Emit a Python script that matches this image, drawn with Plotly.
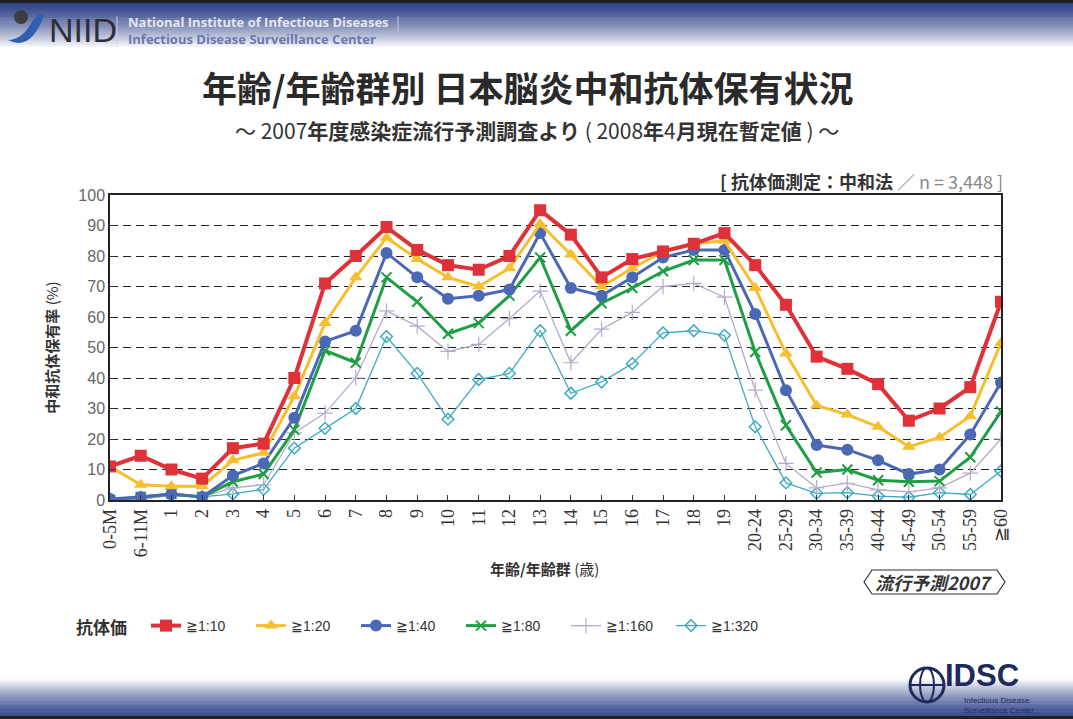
import plotly.graph_objects as go

# ---------------- data ----------------
categories = ["0-5M", "6-11M", "1", "2", "3", "4", "5", "6", "7", "8", "9", "10",
              "11", "12", "13", "14", "15", "16", "17", "18", "19",
              "20-24", "25-29", "30-34", "35-39", "40-44", "45-49", "50-54", "55-59", "≧60"]

s_10 = [11, 14.5, 10, 7, 17, 18.5, 40, 71, 80, 89.5, 82, 77, 75.5, 80, 95, 87, 73, 79, 81.5, 84, 87.5,
        77, 64, 47, 43, 38, 26, 30, 37, 65]
s_20 = [11, 5, 4.5, 4.5, 13, 15.5, 34, 58, 73, 86, 79, 73, 70, 76, 90.5, 80.5, 70, 76, 81.5, 84, 85,
        69.5, 48, 31, 28, 24, 17.5, 20.5, 27.5, 51.5]
s_40 = [0.3, 1, 2, 1, 8, 12, 27, 52, 55.5, 81, 73, 66, 67, 69, 87.5, 69.5, 67, 73, 79.5, 82, 82,
        61, 36, 18, 16.5, 13, 8.5, 10, 21.5, 38.5]
s_80 = [0, 1, 2, 1, 6, 8.5, 23, 49, 45, 73, 65, 54.5, 58, 67, 79.5, 55.5, 64.5, 69.5, 75, 78.7, 78.7,
        48.5, 24.5, 9, 10, 6.5, 6, 6.2, 14, 29]
s_160 = [0, 0.5, 1.5, 1, 4, 5, 22, 28.5, 40, 62, 57, 48.7, 51, 59.5, 68.5, 45, 56, 61.5, 70, 71, 66.5,
         36, 12, 4, 5.5, 3.3, 2.7, 4, 8.8, 20]
s_320 = [0, 0.3, 1.5, 1, 2, 3.5, 17, 23.5, 30, 53.6, 41.5, 26.5, 39.5, 41.5, 55.5, 35, 38.7, 44.7, 54.8, 55.5, 54,
         24, 5.6, 2.2, 2.4, 1.3, 0.9, 2.4, 1.8, 9.5]

series_names = ["≧1:10", "≧1:20", "≧1:40", "≧1:80", "≧1:160", "≧1:320"]
series_values = [s_10, s_20, s_40, s_80, s_160, s_320]
y_ticks = [0, 10, 20, 30, 40, 50, 60, 70, 80, 90, 100]

# ---------------- styles ----------------
styles = [
    dict(color="#e03038", width=4, symbol="square", size=12, lw=0),
    dict(color="#f7be2e", width=3, symbol="triangle-up", size=12, lw=0),
    dict(color="#4a68b4", width=3, symbol="circle", size=12, lw=0),
    dict(color="#1f9e44", width=3, symbol="x-thin", size=10, lw=2),
    dict(color="#b6aacb", width=1.3, symbol="cross-thin", size=11, lw=1.2),
    dict(color="#3eaac4", width=1.3, symbol="diamond-open", size=9, lw=1.5),
]

W, H = 1073, 719
L, R, T, B = 110, 1001, 195, 500


def px(x):
    return (x - L) / (R - L)


def py(y):
    return (B - y) / (B - T)


fig = go.Figure()
# add reversed so red is drawn on top; legend reversed to keep order
for name, vals, st in reversed(list(zip(series_names, series_values, styles))):
    fig.add_trace(go.Scatter(
        x=categories, y=vals, name=name, mode="lines+markers",
        line=dict(color=st["color"], width=st["width"]),
        marker=dict(symbol=st["symbol"], size=st["size"], color=st["color"],
                    line=dict(color=st["color"], width=st["lw"])),
    ))

shapes = []
# header gradient
top_c = (52, 70, 138)
n = 24
for i in range(n):
    y0 = 3 + i * 46 / n
    y1 = 3 + (i + 1) * 46 / n
    t = i / (n - 1)
    t = t ** 1.3
    c = tuple(int(top_c[k] + (255 - top_c[k]) * t) for k in range(3))
    shapes.append(dict(type="rect", xref="paper", yref="paper", layer="below",
                       x0=px(0), x1=px(W), y0=py(y1 + 0.5), y1=py(y0),
                       fillcolor="rgb(%d,%d,%d)" % c, line=dict(width=0)))
shapes.append(dict(type="rect", xref="paper", yref="paper", layer="below",
                   x0=px(0), x1=px(W), y0=py(3), y1=py(0),
                   fillcolor="#202020", line=dict(width=0)))
# footer gradient
bot_c = (60, 78, 146)
for i in range(n):
    y0 = 678 + i * 38 / n
    y1 = 678 + (i + 1) * 38 / n
    t = 1 - i / (n - 1)
    t = t ** 1.3
    c = tuple(int(bot_c[k] + (255 - bot_c[k]) * t) for k in range(3))
    shapes.append(dict(type="rect", xref="paper", yref="paper", layer="below",
                       x0=px(0), x1=px(W), y0=py(y1 + 0.5), y1=py(y0),
                       fillcolor="rgb(%d,%d,%d)" % c, line=dict(width=0)))
shapes.append(dict(type="rect", xref="paper", yref="paper", layer="below",
                   x0=px(0), x1=px(W), y0=py(719), y1=py(716),
                   fillcolor="#202020", line=dict(width=0)))

# NIID logo blob
shapes.append(dict(type="circle", xref="paper", yref="paper",
                   x0=px(14), x1=px(28), y0=py(24), y1=py(10),
                   fillcolor="#3c3c44", line=dict(width=0)))
shapes.append(dict(type="path", xref="paper", yref="paper",
                   path="M %f,%f Q %f,%f %f,%f Q %f,%f %f,%f Q %f,%f %f,%f Z" % (
                       px(8), py(40), px(30), py(52), px(44), py(16),
                       px(40), py(10), px(32), py(22),
                       px(22), py(40), px(8), py(40)),
                   fillcolor="#2f5fb0", line=dict(width=0)))
shapes.append(dict(type="line", xref="paper", yref="paper",
                   x0=px(117), x1=px(117), y0=py(44), y1=py(16),
                   line=dict(color="#c8cce0", width=1)))
shapes.append(dict(type="line", xref="paper", yref="paper",
                   x0=px(398), x1=px(398), y0=py(32), y1=py(16),
                   line=dict(color="#c8cce0", width=1)))

# IDSC globe
shapes.append(dict(type="circle", xref="paper", yref="paper",
                   x0=px(910), x1=px(944), y0=py(702), y1=py(668),
                   fillcolor="rgba(0,0,0,0)", line=dict(color="#1e2a5c", width=3)))
shapes.append(dict(type="circle", xref="paper", yref="paper",
                   x0=px(920), x1=px(934), y0=py(702), y1=py(668),
                   fillcolor="rgba(0,0,0,0)", line=dict(color="#1e2a5c", width=2)))
shapes.append(dict(type="line", xref="paper", yref="paper",
                   x0=px(910), x1=px(944), y0=py(685), y1=py(685),
                   line=dict(color="#1e2a5c", width=2)))

# 流行予測 tag outline
tx0, tx1, ty0, ty1 = 864, 1005, 570, 594
tm = (ty0 + ty1) / 2
shapes.append(dict(type="path", xref="paper", yref="paper",
                   path="M %f,%f L %f,%f L %f,%f L %f,%f L %f,%f L %f,%f Z" % (
                       px(tx0), py(tm), px(tx0 + 8), py(ty0), px(tx1 - 8), py(ty0),
                       px(tx1), py(tm), px(tx1 - 8), py(ty1), px(tx0 + 8), py(ty1)),
                   fillcolor="rgba(0,0,0,0)", line=dict(color="#333", width=1.2)))

CJK = "Noto Sans CJK JP"
annotations = [
    dict(text="<b>年齢/年齢群別 日本脳炎中和抗体保有状況</b>", x=px(528), y=py(87),
         font=dict(family=CJK, size=35, color="#2a2a2a")),
    dict(text="～ 2007<b>年度感染症流行予測調査より</b> ( 2008<b>年</b>4<b>月現在暫定値</b> ) ～",
         x=px(537), y=py(130), font=dict(family=CJK, size=21, color="#333")),
    dict(text="<b>[ 抗体価測定：中和法</b> <span style='color:#888'>／ n = 3,448 ]</span>",
         x=px(1005), y=py(181), xanchor="right", font=dict(family=CJK, size=18, color="#333")),
    dict(text="<b>年齢/年齢群</b> (歳)", x=px(544), y=py(568),
         font=dict(family=CJK, size=15, color="#333")),
    dict(text="<b><i>流行予測2007</i></b>", x=px(934), y=py(582),
         font=dict(family=CJK, size=18, color="#333")),
    dict(text="<b>抗体価</b>", x=px(74), y=py(626), xanchor="left",
         font=dict(family=CJK, size=17, color="#333")),
    dict(text="NIID", x=px(47), y=py(30), xanchor="left",
         font=dict(family="Liberation Sans Narrow, Liberation Sans", size=34, color="#2e2e38")),
    dict(text="<b>National Institute of Infectious Diseases</b>", x=px(126), y=py(22), xanchor="left",
         font=dict(family="Open Sans", size=13, color="#e4e6f0")),
    dict(text="<b>Infectious Disease Surveillance Center</b>", x=px(126), y=py(39), xanchor="left",
         font=dict(family="Open Sans", size=13, color="#6a78ae")),
    dict(text="<b>IDSC</b>", x=px(943), y=py(675), xanchor="left",
         font=dict(family="Liberation Sans", size=31, color="#1e2a5c")),
    dict(text="Infectious Disease<br>Surveillance Center", x=px(962), y=py(705), xanchor="left",
         align="left", font=dict(family="Liberation Sans", size=8, color="#1e2a5c")),
]
for a in annotations:
    a.setdefault("xref", "paper")
    a.setdefault("yref", "paper")
    a.setdefault("showarrow", False)
    a.setdefault("xanchor", "center")
    a.setdefault("yanchor", "middle")

fig.update_layout(
    width=W, height=H,
    margin=dict(l=L, r=W - R, t=T, b=H - B, pad=0),
    paper_bgcolor="white", plot_bgcolor="white",
    showlegend=True,
    legend=dict(orientation="h", x=px(146), y=py(626), xanchor="left", yanchor="middle",
                traceorder="reversed", entrywidth=60, entrywidthmode="pixels",
                font=dict(family="Liberation Sans", size=14, color="#333"),
                bgcolor="rgba(0,0,0,0)"),
    xaxis=dict(type="category", range=[0, len(categories) - 1],
               tickangle=-90, ticks="inside", ticklen=5, tickcolor="#333",
               tickfont=dict(family="Liberation Serif", size=18, color="#333"),
               showgrid=False, showline=True, linecolor="#222", linewidth=1.5, mirror=True,
               zeroline=False, fixedrange=True),
    yaxis=dict(range=[0, 100], tickvals=y_ticks, ticks="inside", ticklen=5, tickcolor="#333",
               tickfont=dict(family="Liberation Sans", size=16, color="#666"),
               showgrid=True, gridcolor="#222", gridwidth=1.4, griddash="8px,5px",
               showline=True, linecolor="#222", linewidth=1.5, mirror=True, zeroline=False,
               title=dict(text="<b>中和抗体保有率</b> (%)", standoff=16,
                          font=dict(family=CJK, size=15, color="#333")),
               fixedrange=True),
    shapes=shapes,
    annotations=annotations,
)

fig.write_html("out.html", config={"displayModeBar": False},
               post_script="document.body.style.margin='0';document.body.style.overflow='hidden';")
